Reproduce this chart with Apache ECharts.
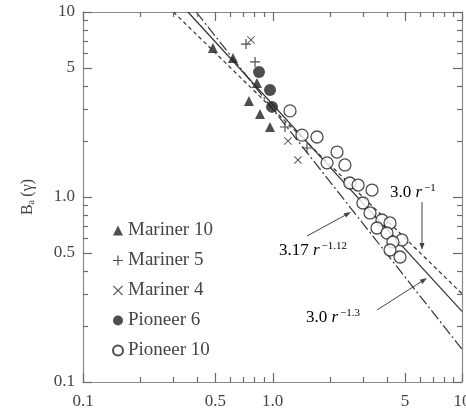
<!DOCTYPE html>
<html><head><meta charset="utf-8">
<script src="https://cdn.jsdelivr.net/npm/echarts@6/dist/echarts.min.js"></script>
<style>html,body{margin:0;padding:0;background:#fff}#c{width:466px;height:415px}</style>
</head><body><div id="c"></div>
<script>
// ---- data (heliocentric distance r in AU, field magnitude in gamma) ----
const mariner10R = [0.485, 0.619, 0.828, 0.751, 0.859, 0.970];
const mariner10B = [6.39, 5.64, 4.13, 3.30, 2.81, 2.39];
const mariner5R = [0.725, 0.809, 1.164, 1.52];
const mariner5B = [6.71, 5.37, 2.39, 1.84];
const mariner4R = [0.770, 1.207, 1.363];
const mariner4B = [7.06, 2.01, 1.585];
const pioneer6R = [0.849, 0.970, 0.994];
const pioneer6B = [4.74, 3.79, 3.07];
const pioneer10R = [1.237, 1.431, 1.717, 2.19, 1.94, 2.41, 2.56, 2.83, 3.35, 3.00, 3.27, 3.78, 4.17, 3.56, 4.02, 4.82, 4.32, 4.17, 4.71];
const pioneer10B = [2.92, 2.16, 2.11, 1.75, 1.53, 1.49, 1.19, 1.16, 1.09, 0.928, 0.82, 0.751, 0.724, 0.68, 0.639, 0.586, 0.571, 0.517, 0.474];
// fitted power laws: end points of each straight line
const fitInvR = [0.3, 10];      const fitInvB = [10, 0.3];     // 3.0 r^-1
const fit112R = [0.358, 10];    const fit112B = [10, 0.2406];  // 3.17 r^-1.12
const fit13R = [0.396, 10];     const fit13B = [10, 0.1503];   // 3.0 r^-1.3
// ticks
const tickValues = [0.1, 0.5, 1, 5, 10];
const tickLabels = ['0.1', '0.5', '1.0', '5', '10'];
const minorTickValues = [0.2, 0.3, 0.4, 0.6, 0.7, 0.8, 0.9, 2, 3, 4, 6, 7, 8, 9];
const seriesNames = ['Mariner 10', 'Mariner 5', 'Mariner 4', 'Pioneer 6', 'Pioneer 10'];

const zip = (a, b) => a.map((v, i) => [v, b[i]]);
const FONT = '"Liberation Serif", "DejaVu Serif", serif';
const INK = '#222';
const AX = '#8a8a8a';
const TICK = '#6a6a6a';
const TXT = '#444';
const PLUS = 'path://M44,0H56V44H100V56H56V100H44V56H0V44H44Z';
const CROSS = 'path://M8,0L50,42L92,0L100,8L58,50L100,92L92,100L50,58L8,100L0,92L42,50L0,8Z';

function fmt(v) {
  for (let i = 0; i < tickValues.length; i++) if (Math.abs(v - tickValues[i]) < 1e-6 * tickValues[i] + 1e-9) return tickLabels[i];
  return '';
}
function mkAxis(pos, labels, extra) {
  return Object.assign({
    type: 'log', logBase: 10, min: 0.1, max: 10, position: pos,
    axisLine: { show: true, lineStyle: { color: AX, width: 1.2 } },
    axisTick: { show: false },
    axisLabel: labels ? { show: true, customValues: tickValues, formatter: fmt, fontFamily: FONT, fontSize: 17, color: TXT, margin: 8 } : { show: false },
    splitLine: { show: false }, minorTick: { show: false }
  }, extra || {});
}

const chart = echarts.init(document.getElementById('c'), null, { renderer: 'canvas' });
const lineStyleBase = { color: '#333', width: 1.2 };
const option = {
  animation: false,
  backgroundColor: '#fff',
  grid: { left: 83, top: 12, right: 4, bottom: 33, containLabel: false, outerBoundsMode: 'none' },
  xAxis: [
    mkAxis('bottom', true, { axisLabel: { show: true, customValues: tickValues, formatter: fmt, fontFamily: FONT, fontSize: 17, color: TXT, margin: 11 } }),
    mkAxis('top', false)
  ],
  yAxis: [
    mkAxis('left', true, {
      name: '{b|B}{s|a} {b|(γ)}', nameLocation: 'middle', nameGap: 47, nameRotate: 90,
      nameTextStyle: { rich: { b: { fontFamily: FONT, fontSize: 16, color: TXT }, s: { fontFamily: FONT, fontSize: 10, color: TXT, verticalAlign: 'bottom', padding: [7, 0, 0, 0] } } }
    }),
    mkAxis('right', false)
  ],
  legend: {
    orient: 'vertical', left: 107, top: 216, itemGap: 11, itemWidth: 10, itemHeight: 10,
    textStyle: { fontFamily: FONT, fontSize: 19, color: TXT, padding: [0, 0, 0, 0] },
    data: [
      { name: seriesNames[0], icon: 'triangle' },
      { name: seriesNames[1], icon: PLUS },
      { name: seriesNames[2], icon: CROSS },
      { name: seriesNames[3], icon: 'circle' },
      { name: seriesNames[4], icon: 'circle' }
    ]
  },
  series: [
    { name: seriesNames[0], type: 'scatter', symbol: 'triangle', symbolSize: 10, itemStyle: { color: INK }, data: zip(mariner10R, mariner10B), z: 5 },
    { name: seriesNames[1], type: 'scatter', symbol: PLUS, symbolSize: 10, itemStyle: { color: INK }, data: zip(mariner5R, mariner5B), z: 5 },
    { name: seriesNames[2], type: 'scatter', symbol: CROSS, symbolSize: 8, itemStyle: { color: INK }, data: zip(mariner4R, mariner4B), z: 5 },
    { name: seriesNames[3], type: 'scatter', symbol: 'circle', symbolSize: 12, itemStyle: { color: INK }, data: zip(pioneer6R, pioneer6B), z: 5 },
    { name: seriesNames[4], type: 'scatter', symbol: 'circle', symbolSize: 12, itemStyle: { color: '#fff', borderColor: INK, borderWidth: 1.3 }, data: zip(pioneer10R, pioneer10B), z: 5 },
    { name: 'fit1', type: 'line', showSymbol: false, symbol: 'none', data: zip(fitInvR, fitInvB), lineStyle: Object.assign({}, lineStyleBase, { type: [4, 3] }), z: 3 },
    { name: 'fit2', type: 'line', showSymbol: false, symbol: 'none', data: zip(fit112R, fit112B), lineStyle: Object.assign({}, lineStyleBase), z: 3 },
    { name: 'fit3', type: 'line', showSymbol: false, symbol: 'none', data: zip(fit13R, fit13B), lineStyle: Object.assign({}, lineStyleBase, { type: [11, 3, 2, 3] }), z: 3 }
  ]
};
chart.setOption(option);

// tick marks, placed through the axes' own log scales
const gfx = [];
function tline(x1, y1, x2, y2) {
  gfx.push({ type: 'line', z: 20, silent: true, shape: { x1: x1, y1: y1, x2: x2, y2: y2 }, style: { stroke: TICK, lineWidth: 1.2 } });
}
const crisp = p => Math.round(p) + 0.5;
const yBottom = chart.convertToPixel({ yAxisIndex: 0 }, 0.1);
const yTop = chart.convertToPixel({ yAxisIndex: 0 }, 10);
const xLeft = chart.convertToPixel({ xAxisIndex: 0 }, 0.1);
const xRight = chart.convertToPixel({ xAxisIndex: 0 }, 10);
[[tickValues, 9], [minorTickValues, 5]].forEach(function (pair) {
  pair[0].forEach(function (v) {
    const px = crisp(chart.convertToPixel({ xAxisIndex: 0 }, v));
    tline(px, yBottom, px, yBottom - pair[1]);
    tline(px, yTop, px, yTop + pair[1]);
    const py = crisp(chart.convertToPixel({ yAxisIndex: 0 }, v));
    tline(xLeft, py, xLeft + pair[1], py);
    tline(xRight, py, xRight - pair[1], py);
  });
});

// annotations: labels and arrows
const richLbl = {
  m: { fontFamily: FONT, fontSize: 17, color: TXT, lineHeight: 20 },
  i: { fontFamily: FONT, fontSize: 17, fontStyle: 'italic', color: TXT, lineHeight: 20 },
  s: { fontFamily: FONT, fontSize: 11, color: TXT, verticalAlign: 'top', lineHeight: 20, padding: [0, 0, 8, 2] }
};
function label(x, y, a, b) {
  return { type: 'text', x: x, y: y, z: 10, style: { text: '{m|' + a + ' }{i|r}{s|' + b + '}', rich: richLbl, verticalAlign: 'middle', align: 'left' } };
}
function arrow(x1, y1, x2, y2) {
  const ang = Math.atan2(y2 - y1, x2 - x1), L = 7, W = 2.5;
  const bx = x2 - L * Math.cos(ang), by = y2 - L * Math.sin(ang);
  const nx = -Math.sin(ang) * W, ny = Math.cos(ang) * W;
  return [
    { type: 'line', z: 10, shape: { x1: x1, y1: y1, x2: bx, y2: by }, style: { stroke: TXT, lineWidth: 1 } },
    { type: 'polygon', z: 10, shape: { points: [[x2, y2], [bx + nx, by + ny], [bx - nx, by - ny]] }, style: { fill: TXT } }
  ];
}
chart.setOption({
  graphic: [].concat(
    gfx,
    [label(390, 193, '3.0', '−1'), label(279, 251, '3.17', '−1.12'), label(306, 318, '3.0', '−1.3')],
    arrow(422, 202, 422, 250),
    arrow(307, 236, 351, 212),
    arrow(377, 310, 427, 278)
  )
});
</script></body></html>
